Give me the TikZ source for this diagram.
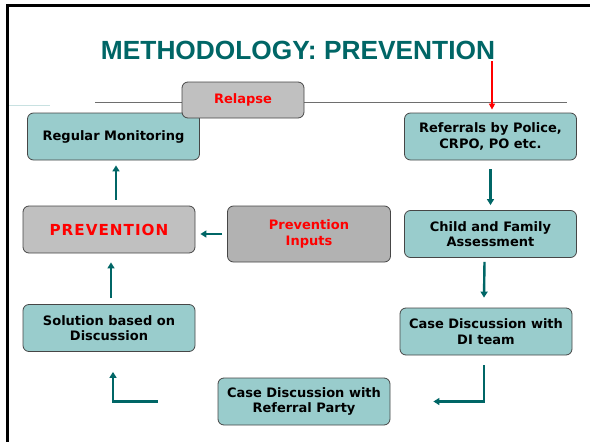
\documentclass[tikz,border=0pt]{standalone}
\usepackage{fontspec}
\setmainfont{Liberation Sans}
\newfontfamily\boxfont{DejaVu Sans}
\usepackage{tikz}
\usetikzlibrary{
  arrows.meta,
  backgrounds,
  calc,
  positioning
}
\definecolor{titleteal}{RGB}{0,102,102}
\definecolor{boxteal}{RGB}{153,204,204}
\definecolor{boxgray}{RGB}{192,192,192}
\definecolor{inputgray}{RGB}{178,178,178}
\definecolor{edgegray}{RGB}{70,70,70}
\definecolor{ruleline}{RGB}{110,110,110}
\definecolor{faintteal}{RGB}{200,225,225}
\definecolor{alertred}{RGB}{255,0,0}
\tikzset{
  stage/.style={draw=edgegray,thick,fill=boxteal,
    rounded corners=6pt,align=center,inner sep=3pt,
    minimum width=172pt,minimum height=47pt,
    font=\boxfont\fontsize{13}{15.5}\selectfont\bfseries},
  hub/.style={stage,fill=boxgray,text=alertred},
  inputs/.style={stage,fill=inputgray,text=alertred,
    minimum width=163pt,minimum height=56pt},
  flow/.style={-{Triangle[length=6pt,width=7pt]},line width=2.4pt,
    draw=titleteal},
  redflow/.style={-{Triangle[length=6pt,width=6pt]},line width=1.6pt,
    draw=alertred}
}

\begin{document}
\begin{tikzpicture}[x=1pt,y=-1pt]
  \useasboundingbox (0,0) rectangle (590,442);
  % slide frame and rules
  \draw[line width=3pt] (7,442) -- (7,5) -- (590,5);
  \draw[faintteal,line width=0.8pt] (9,105) -- (50,105);
  \draw[ruleline,line width=1pt] (95,102) -- (567,102);

  \node[anchor=base,text=titleteal,
    font=\fontsize{26.3}{30}\selectfont\bfseries] (title) at (298,59)
    {METHODOLOGY: PREVENTION};

  % right column
  \node[stage] (referrals) at (490.5,136.5) {Referrals by Police,\\CRPO, PO etc.};
  \node[stage] (assess) at (490.5,234) {Child and Family\\Assessment};
  \node[stage] (diteam) at (486,331.5) {Case Discussion with\\DI team};
  \node[stage] (party) at (304,401.5) {Case Discussion with\\Referral Party};
  % left column
  \node[stage] (solution) at (109,328) {Solution based on\\Discussion};
  \node[hub,font=\boxfont\fontsize{15.2}{17}\selectfont\bfseries] (prevention)
    at (109,229.5) {P\kern1ptR\kern1ptE\kern1ptV\kern1ptE\kern1ptN\kern1ptT\kern1ptI\kern1ptO\kern1ptN};
  \node[stage] (monitor) at (113.5,136.5) {Regular Monitoring};
  \node[inputs] (preinputs) at (309,234) {Prevention\\Inputs};
  \node[hub,minimum width=122pt,minimum height=36pt] (relapse) at (243,100) {Relapse};

  \coordinate (entry) at (492,61);
  \draw[redflow,shorten >=3pt] (entry) -- (entry |- referrals.north);

  \draw[flow,shorten <=9pt,shorten >=5pt] (referrals) -- (assess);
  \draw[flow] ([xshift=-6pt,yshift=-4pt]assess.south)
    -- ([xshift=-2pt,yshift=10pt]diteam.north);
  \draw[flow] ([xshift=-2pt,yshift=-10pt]diteam.south)
    |- ([xshift=43pt]party.east);
  \draw[flow] ([xshift=-60pt]party.west)
    -| ([xshift=4pt,yshift=-20pt]solution.south);
  \draw[flow] ([xshift=2pt,yshift=6pt]solution.north)
    -- ([xshift=2pt,yshift=-9pt]prevention.south);
  \draw[flow] ([xshift=7pt,yshift=6pt]prevention.north)
    -- ([xshift=2.5pt,yshift=-5pt]monitor.south);
  \draw[flow,shorten <=5pt,shorten >=5pt] (preinputs.west)
    -- (preinputs.west -| prevention.east);
\end{tikzpicture}
\end{document}
